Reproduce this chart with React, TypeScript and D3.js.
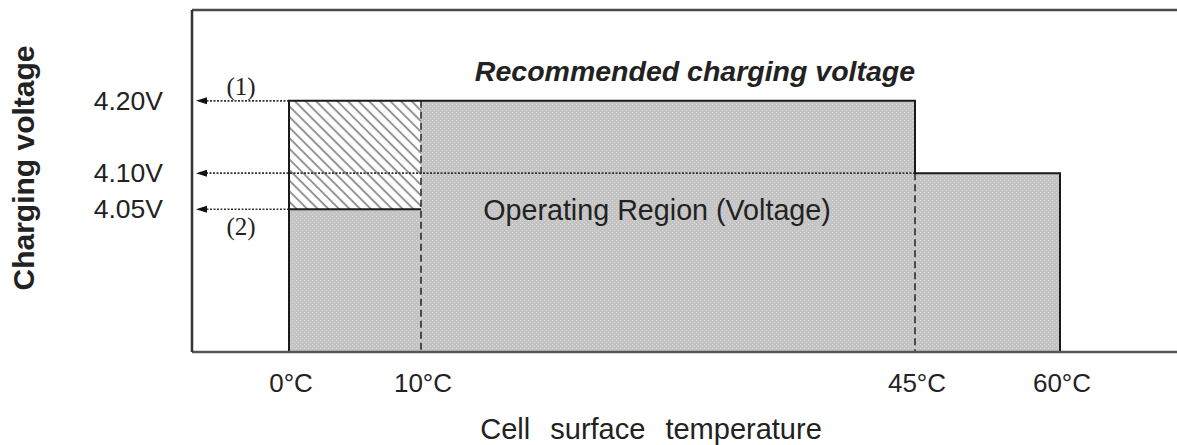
import React from "react";
import * as d3 from "d3";

// chart data
const tempTicks = [0, 10, 45, 60];
const tempLabels = ["0°C", "10°C", "45°C", "60°C"];
const voltTicks = [4.2, 4.1, 4.05];
const voltLabels = ["4.20V", "4.10V", "4.05V"];
const arrowFromTemp = [0, 45, 0]; // where each dotted arrow starts
const zoneFrom = [0, 10, 45];
const zoneTo = [10, 45, 60];
const zoneVolt = [4.05, 4.2, 4.1];
const hatchTemp = [0, 10];
const hatchVolt = [4.05, 4.2];
const dashedTemp = [10, 45];
const dashedTop = [4.2, 4.1];
const notes = ["(1)", "(2)"];
const noteVolt = [4.2, 4.05];

const W = 1177;
const H = 445;
const frame = {left: 192, top: 10, bottom: 352};
const sans = "'Liberation Sans', Arial, sans-serif";

const App = () => {
    // piecewise scale: the original is schematic, not linear in temperature
    const x = d3.scaleLinear().domain(tempTicks).range([289, 421, 915, 1060]);
    const y = d3.scaleLinear().domain([3.854, 4.327]).range([351, 9]);

    const base = y.range()[0];
    const outline = d3.line()([
        [x(0), base],
        [x(0), y(4.2)],
        [x(45), y(4.2)],
        [x(45), y(4.1)],
        [x(60), y(4.1)],
        [x(60), base],
    ]);
    const tipX = frame.left + 4;

    return (
        <svg width={W} height={H} style={{position: "absolute", left: 0, top: 0, background: "#fff"}}>
            <defs>
                <pattern id="dots" width={4} height={4} patternUnits="userSpaceOnUse">
                    <rect width={4} height={4} fill="#c4c4c4"/>
                    <rect x={0} y={0} width={1} height={1} fill="#d6d6d6"/>
                    <rect x={2} y={2} width={1} height={1} fill="#d6d6d6"/>
                </pattern>
                <pattern id="hatch" width={7.5} height={7.5} patternUnits="userSpaceOnUse"
                         patternTransform="rotate(-45)">
                    <rect width={7.5} height={7.5} fill="#fff"/>
                    <line x1={2} y1={0} x2={2} y2={7.5} stroke="#8a8a8a" strokeWidth={1.8}/>
                </pattern>
            </defs>

            {/* zones */}
            {zoneFrom.map((t, i) => (
                <rect key={i} x={x(t)} y={y(zoneVolt[i])} width={x(zoneTo[i]) - x(t)}
                      height={base - y(zoneVolt[i])} fill="url(#dots)"/>
            ))}
            <rect x={x(hatchTemp[0])} y={y(hatchVolt[1])} width={x(hatchTemp[1]) - x(hatchTemp[0])}
                  height={y(hatchVolt[0]) - y(hatchVolt[1])} fill="url(#hatch)"/>

            {/* dashed separators */}
            {dashedTemp.map((t, i) => (
                <line key={i} x1={x(t)} x2={x(t)} y1={y(dashedTop[i])} y2={base}
                      stroke="#222" strokeWidth={1.5} strokeDasharray="7,4"/>
            ))}

            {/* dotted arrows to the voltage axis */}
            {voltTicks.map((v, i) => (
                <g key={i}>
                    <line x1={x(arrowFromTemp[i])} x2={tipX + 8} y1={y(v)} y2={y(v)}
                          stroke="#333" strokeWidth={1.6} strokeDasharray="2,1.5"/>
                    <path d={`M${tipX},${y(v)} L${tipX + 11},${y(v) - 3.5} L${tipX + 11},${y(v) + 3.5} Z`}
                          fill="#111"/>
                </g>
            ))}

            {/* outlines */}
            <path d={outline} fill="none" stroke="#1a1a1a" strokeWidth={2}/>
            <line x1={x(hatchTemp[0])} x2={x(hatchTemp[1])} y1={y(hatchVolt[0])} y2={y(hatchVolt[0])}
                  stroke="#1a1a1a" strokeWidth={2}/>

            {/* frame */}
            <line x1={frame.left} x2={W} y1={frame.top} y2={frame.top} stroke="#4a4a4a" strokeWidth={2.5}/>
            <line x1={frame.left} x2={W} y1={frame.bottom} y2={frame.bottom} stroke="#555" strokeWidth={2.5}/>
            <line x1={frame.left} x2={frame.left} y1={frame.top} y2={frame.bottom} stroke="#333" strokeWidth={2.5}/>

            {/* voltage labels */}
            {voltTicks.map((v, i) => (
                <text key={i} x={163} y={y(v) + 9} textAnchor="end" fontFamily={sans} fontSize={26.5}
                      fill="#222">{voltLabels[i]}</text>
            ))}
            {notes.map((n, i) => (
                <text key={i} x={241} y={y(noteVolt[i]) + (i === 0 ? -6 : 26)} textAnchor="middle"
                      fontFamily="'Liberation Serif', 'Times New Roman', serif" fontSize={25}
                      fill="#222">{n}</text>
            ))}

            {/* temperature labels */}
            {tempTicks.map((t, i) => (
                <text key={i} x={x(t) + 2} y={392} textAnchor="middle" fontFamily={sans} fontSize={26}
                      fill="#222">{tempLabels[i]}</text>
            ))}

            <text x={695} y={81} textAnchor="middle" fontFamily={sans} fontSize={28.5} fontWeight="bold"
                  fontStyle="italic" fill="#222">Recommended charging voltage</text>
            <text x={657} y={220} textAnchor="middle" fontFamily={sans} fontSize={28.7}
                  fill="#222">Operating Region (Voltage)</text>
            <text x={651} y={439} textAnchor="middle" fontFamily={sans} fontSize={29} wordSpacing={12}
                  fill="#222">Cell surface temperature</text>
            <text transform="translate(34,168) rotate(-90)" textAnchor="middle" fontFamily={sans}
                  fontSize={30} fontWeight="bold" fill="#222">Charging voltage</text>
        </svg>
    );
};

export default App;
